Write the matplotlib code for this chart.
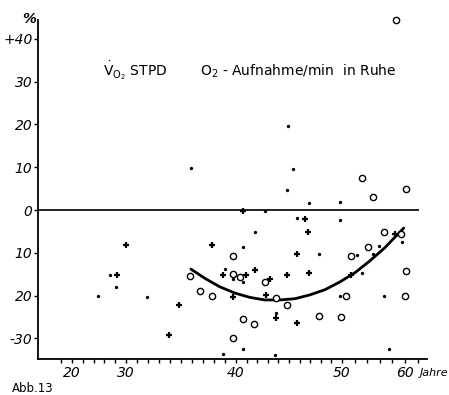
import numpy as np
import matplotlib
matplotlib.use("Agg")
import matplotlib.pyplot as plt

plt.rcParams['font.family'] = ['DejaVu Sans']
plt.rcParams['mathtext.fontset'] = 'dejavusans'

# age axis of the original is not linear: label positions (px)
age_knots = [10, 20, 30, 40, 50, 60, 70]
pos_knots = [18, 72, 126, 236, 342, 405, 468]

# open circles
circ_age = [35.8, 36.7, 37.8, 39.7, 39.7, 40.4, 42.7, 43.8, 44.8, 40.7, 41.7,
            47.8, 39.7, 58.5, 53.1, 54.9, 60.2, 56.6, 59.4, 54.2, 51.4, 60.1,
            50.6, 60.0, 49.9]
circ_val = [-15.3, -18.8, -20.0, -10.7, -15.0, -15.7, -16.9, -20.6, -22.3, -25.5, -26.7,
            -24.7, -29.8, 44.4, 7.6, 3.1, 4.8, -5.2, -5.5, -8.7, -10.7, -14.3,
            -20.1, -20.1, -24.9]

# crosses
plus_age = [28.3, 30.0, 34.8, 33.9, 37.8, 40.7, 46.5, 46.8, 45.8, 38.8, 40.9,
            41.8, 43.2, 44.8, 46.9, 39.7, 42.8, 43.8, 45.8, 51.4, 58.4]
plus_val = [-15.2, -8.2, -22.3, -29.2, -8.2, -0.2, -2.2, -5.2, -10.2, -15.2, -15.2,
            -14.0, -16.1, -15.2, -14.6, -20.3, -19.9, -25.3, -26.3, -15.2, -5.5]

# filled dots
dot_age = [24.8, 27.1, 28.1, 35.9, 31.9, 45.4, 44.8, 46.9, 42.7, 45.8, 41.8,
           40.7, 47.8, 39.0, 39.7, 40.7, 43.8, 38.8, 40.7, 43.7, 57.5, 44.9,
           49.8, 49.8, 59.5, 55.8, 52.4, 55.0, 53.1, 49.8, 56.6]
dot_val = [-20.1, -15.2, -18.0, 9.8, -20.2, 9.5, 4.7, 1.7, -0.2, -1.9, -5.2,
           -8.6, -10.3, -13.7, -16.1, -16.8, -24.1, -33.7, -32.5, -33.9, -32.5, 19.6,
           1.8, -2.3, -7.4, -8.4, -10.4, -10.3, -14.6, -20.1, -20.1]

# drawn trend curve
curve_age = [35.9, 37.2, 38.5, 39.9, 41.3, 42.7, 44.2, 45.6, 47.0, 48.4, 49.8,
             52.1, 54.4, 56.8, 59.8]
curve_val = [-13.8, -16.0, -17.9, -19.4, -20.4, -21.0, -21.0, -20.7, -19.8, -18.6, -16.8,
             -14.6, -11.9, -8.8, -4.2]

yticks = [-30, -20, -10, 0, 10, 20, 30, 40]
ytick_labels = ['-30', '20', '10', '0', '10', '20', '30', '+40']
xticks = [20, 30, 40, 50, 60]


def fwd(a):
    return np.interp(a, age_knots, pos_knots)


def inv(p):
    return np.interp(p, pos_knots, age_knots)


fig = plt.figure(figsize=(4.49, 3.95), dpi=100)
ax = fig.add_axes([38 / 449, 1 - 359 / 395, (427 - 38) / 449, (359 - 20) / 395])
ax.set_xscale('function', functions=(fwd, inv))
ax.set_xlim(inv(38), inv(427))
ax.set_ylim(-34.8, 44.4)

for s in ['top', 'right']:
    ax.spines[s].set_visible(False)
for s in ['left', 'bottom']:
    ax.spines[s].set_linewidth(1.3)

ax.axhline(0, xmin=0, xmax=(418 - 38) / (427 - 38), color='#222222', lw=1.4)

ax.plot(curve_age, curve_val, color='black', lw=2.0, solid_capstyle='round',
        solid_joinstyle='round')
ax.plot(dot_age, dot_val, 'o', ms=2.4, color='black', mew=0, clip_on=False)
ax.plot(plus_age, plus_val, '+', ms=4.5, color='black', mew=1.6, clip_on=False)
ax.plot(circ_age, circ_val, 'o', ms=4.5, mfc='white', mec='black', mew=1.0,
        clip_on=False)

ax.set_yticks(yticks)
ax.set_yticklabels(ytick_labels, style='italic', fontsize=10)
ax.set_xticks(xticks)
ax.set_xticklabels([str(t) for t in xticks], style='italic', fontsize=10)
minor = list(range(18, 30, 2)) + list(range(31, 50)) + list(range(52, 64, 2))
ax.set_xticks(minor, minor=True)
ax.tick_params(axis='both', which='both', direction='out', length=3, width=1)
ax.tick_params(axis='y', pad=1)
ax.tick_params(axis='x', pad=2)

fig.text(22 / 449, 1 - 19 / 395, '%', fontsize=10, fontweight='bold', style='italic',
         ha='left', va='center')
fig.text(103 / 449, 1 - 76 / 395, r'$\dot{\mathsf{V}}_{\mathsf{O}_2}$ STPD', fontsize=10,
         ha='left', va='baseline')
fig.text(200 / 449, 1 - 76 / 395, r'O$_2$ - Aufnahme/min  in Ruhe', fontsize=10,
         ha='left', va='baseline')
fig.text(420 / 449, 1 - 373 / 395, 'Jahre', fontsize=8, style='italic',
         ha='left', va='center')
fig.text(12 / 449, 1 - 388 / 395, 'Abb.13', fontsize=8.5, ha='left', va='center')

fig.savefig('out.png', dpi=100)
